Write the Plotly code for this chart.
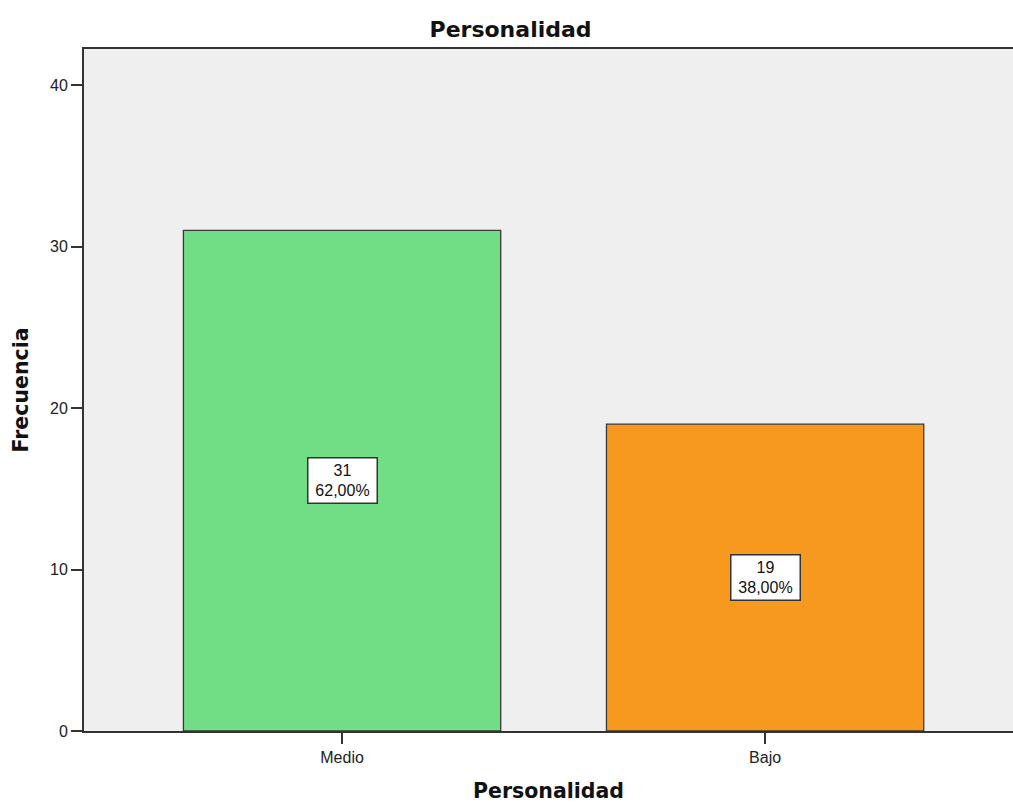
import plotly.graph_objects as go

categories = ["Medio", "Bajo"]
counts = [31, 19]
percents = ["62,00%", "38,00%"]
colors = ["#71DD85", "#F7991F"]
y_ticks = [0, 10, 20, 30, 40]

xpos = list(range(len(categories)))
TITLE_FONT = "DejaVu Sans, Verdana, sans-serif"
BODY_FONT = "Liberation Sans, Arial, sans-serif"

fig = go.Figure()
fig.add_trace(go.Bar(
    x=xpos, y=counts, width=0.75,
    marker=dict(color=colors, line=dict(color="#3a3a3a", width=1.3)),
    hoverinfo="skip", showlegend=False,
))

for xi, c, p in zip(xpos, counts, percents):
    fig.add_annotation(
        x=xi, y=c / 2, xref="x", yref="y",
        text=f"{c}<br>{p}", showarrow=False,
        font=dict(family=BODY_FONT, size=16, color="#111"),
        width=63, height=39,
        bgcolor="white", bordercolor="#333", borderwidth=1.5, borderpad=2.5,
    )

fig.update_layout(
    width=1013, height=803,
    margin=dict(l=84, r=0, t=49, b=72),
    paper_bgcolor="white", plot_bgcolor="#EFEFEF",
    font=dict(family=BODY_FONT, size=16, color="#222"),
    title=dict(text="<b>Personalidad</b>", x=0.504, xanchor="center", y=0.963, yanchor="middle",
               font=dict(family=TITLE_FONT, size=22, color="#111")),
)
fig.update_xaxes(
    range=[-0.61, 1.586], tickvals=xpos, ticktext=categories,
    ticks="outside", ticklen=11, tickcolor="#333", tickwidth=1.5,
    ticklabelstandoff=0,
    showline=True, linecolor="#333", linewidth=1.8, mirror=True,
    showgrid=False, zeroline=False,
    title=dict(text="<b>Personalidad</b>", standoff=22,
               font=dict(family=TITLE_FONT, size=20.5, color="#111")),
)
fig.update_yaxes(
    range=[0, 42.23], tickvals=y_ticks,
    ticks="outside", ticklen=11, tickcolor="#333", tickwidth=1.5,
    ticklabelstandoff=0,
    showline=True, linecolor="#333", linewidth=1.8, mirror=False,
    showgrid=False, zeroline=False,
    title=dict(text="<b>Frecuencia</b>", standoff=16,
               font=dict(family=TITLE_FONT, size=20.5, color="#111")),
)

fig.write_html("out.html", config={"displayModeBar": False},
               post_script="document.body.style.margin='0';document.body.style.overflow='hidden';")
